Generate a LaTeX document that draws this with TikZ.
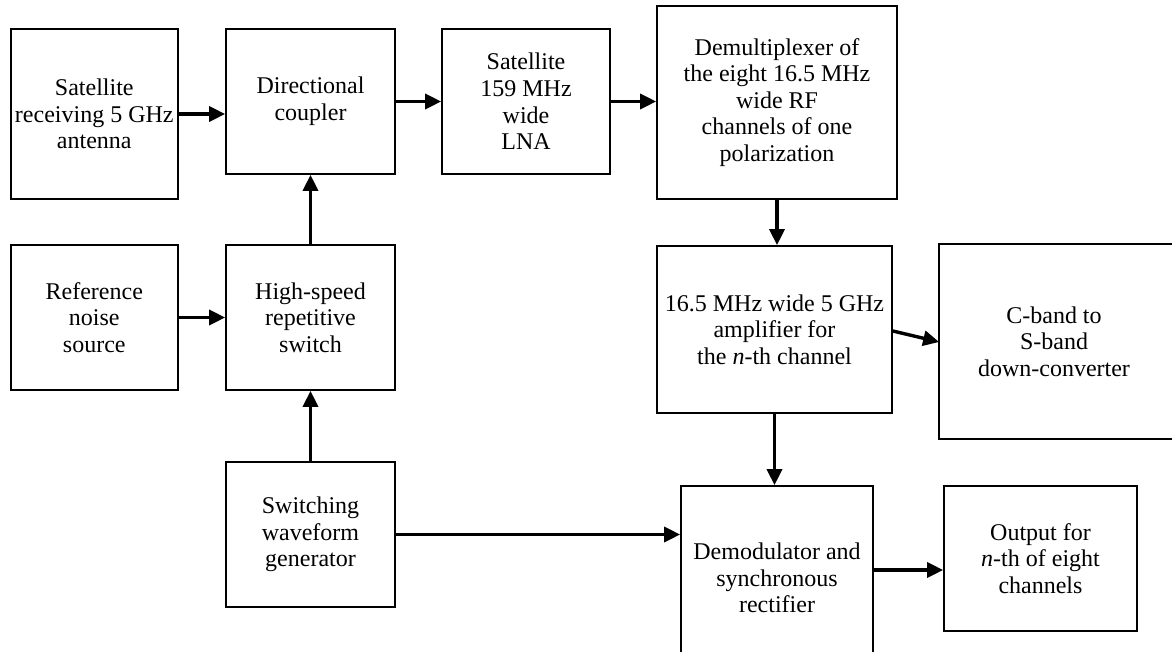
\documentclass[tikz,border=0pt]{standalone}
\usepackage{fontspec}
\setmainfont{Liberation Serif}
\usetikzlibrary{arrows.meta,calc}
\tikzset{
  blk/.style={draw, line width=1.7pt, inner sep=0pt, align=center,
    font=\fontsize{24}{26.6}\selectfont},
  conn/.style={line width=3.4pt, -{Triangle[length=16pt,width=15pt]}}
}
\begin{document}
\begin{tikzpicture}[x=1pt,y=-1pt]
\useasboundingbox (0,0) rectangle (1172,652);
\clip (0,0) rectangle (1172,652);
\node[blk, minimum width=167pt, minimum height=170pt] (ant) at (94.3,114) {Satellite\\receiving 5 GHz\\antenna};
\node[blk, minimum width=169pt, minimum height=145pt] (coup) at (310.5,101.5) {Directional\\coupler};
\node[blk, minimum width=168pt, minimum height=145pt] (lna) at (526,101.5) {Satellite\\159 MHz\\wide\\LNA};
\node[blk, minimum width=240pt, minimum height=193pt] (demux) at (777,102.5) {Demultiplexer of\\the eight 16.5 MHz\\wide RF\\channels of one\\polarization};
\node[blk, minimum width=167pt, minimum height=145pt] (ref) at (94.3,317.5) {Reference\\noise\\source};
\node[blk, minimum width=169pt, minimum height=145pt] (sw) at (310.5,317.5) {High-speed\\repetitive\\switch};
\node[blk, minimum width=235pt, minimum height=167pt] (amp) at (774.5,329.5) {16.5 MHz wide 5 GHz\\amplifier for\\the \textit{n}-th channel};
\node[blk, draw=none, minimum width=228pt, minimum height=193pt] (conv) at (1054,341.5) {C-band to\\S-band\\down-converter};
\draw[line width=1.7pt] (conv.north west) rectangle ($(conv.south east)+(30,0)$);
\node[blk, minimum width=169pt, minimum height=145pt] (gen) at (310.5,534.5) {Switching\\waveform\\generator};
\node[blk, minimum width=192pt, minimum height=184pt] (demod) at (777,578) {Demodulator and\\synchronous\\rectifier};
\node[blk, minimum width=193pt, minimum height=145pt] (out) at (1040.5,558.5) {Output for\\\textit{n}-th of eight\\channels};

\draw[conn] (ant.east) -- (coup.west |- ant.east);
\draw[conn] (coup.east) -- (lna.west);
\draw[conn] (lna.east) -- (demux.west |- lna.east);
\draw[conn] (sw.north) -- (coup.south);
\draw[conn] (ref.east) -- (sw.west);
\draw[conn] (gen.north) -- (sw.south);
\draw[conn] (demux.south) -- (demux.south |- amp.north);
\draw[conn] (amp.south) -- (amp.south |- demod.north);
\draw[conn] ($(amp.east)+(0,1.5)$) -- ($(conv.west)+(0,0.5)$);
\draw[conn] (gen.east) -- (demod.west |- gen.east);
\coordinate (dmo) at ($(demod.east)+(0,-8)$);
\draw[conn] (dmo) -- (out.west |- dmo);
\end{tikzpicture}
\end{document}
